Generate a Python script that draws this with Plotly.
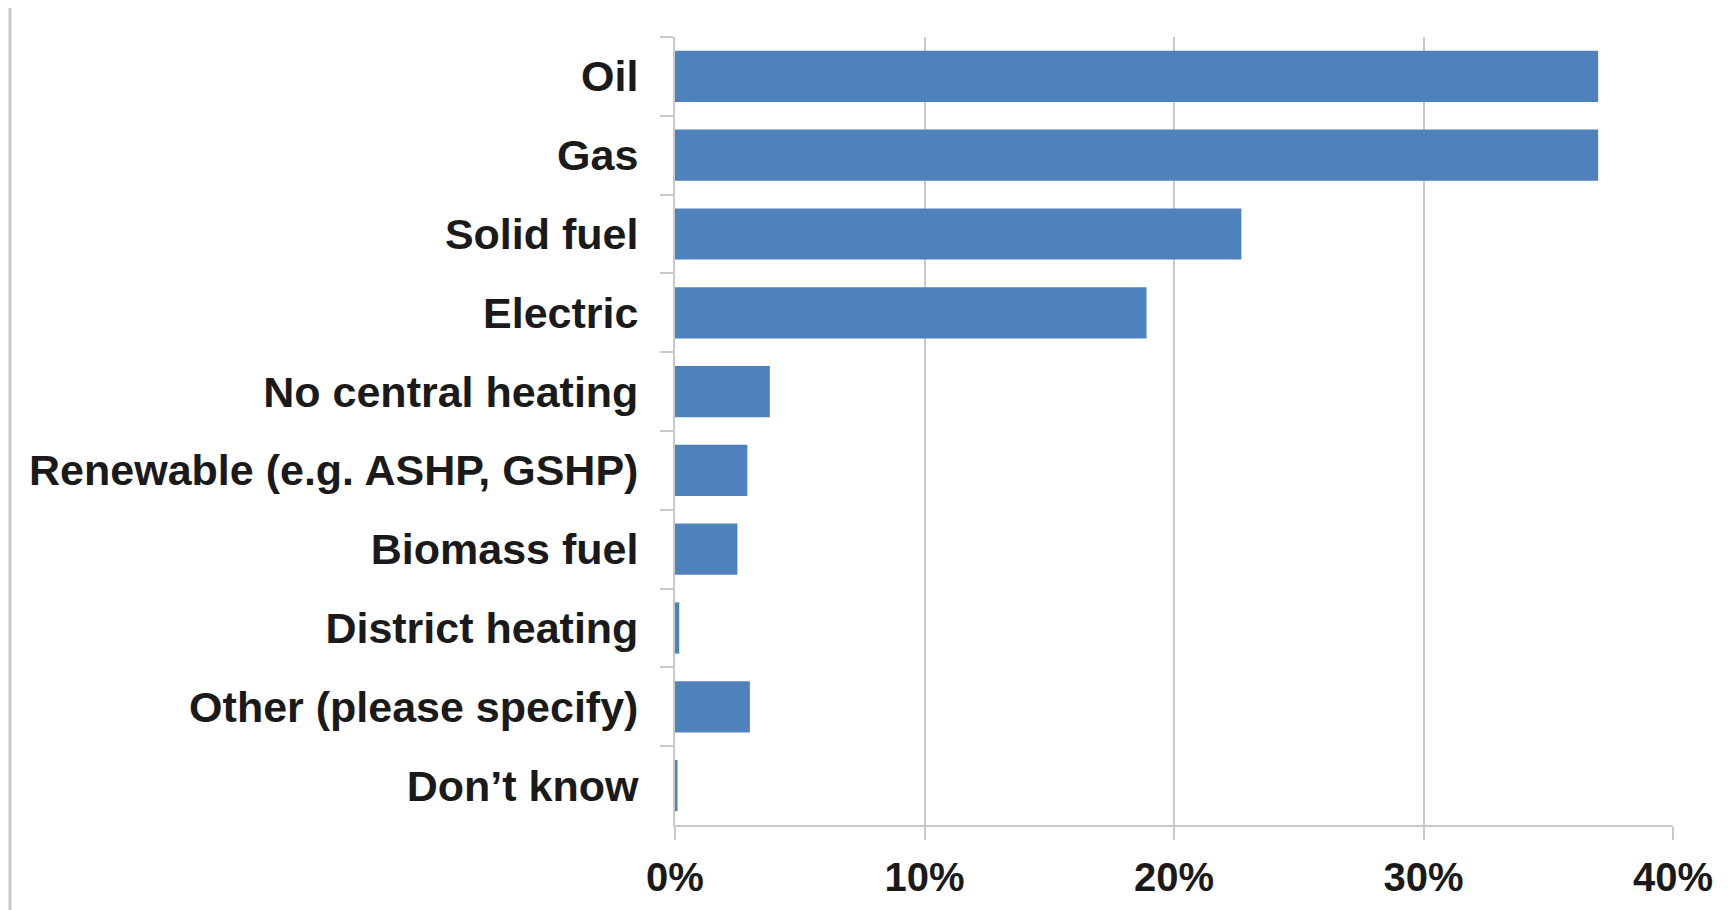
import plotly.graph_objects as go

categories = [
    "Oil",
    "Gas",
    "Solid fuel",
    "Electric",
    "No central heating",
    "Renewable (e.g. ASHP, GSHP)",
    "Biomass fuel",
    "District heating",
    "Other (please specify)",
    "Don\u2019t know",
]
values = [37.0, 37.0, 22.7, 18.9, 3.8, 2.9, 2.5, 0.17, 3.0, 0.1]
x_ticks = [0, 10, 20, 30, 40]
x_tick_labels = ["0%", "10%", "20%", "30%", "40%"]

W, H = 1732, 910
OFF = 8  # page body margin
L, R, T, B = 675 - OFF, 59 + OFF, 37 - OFF, 85 + OFF
plot_w = W - L - R
plot_h = H - T - B

fig = go.Figure(
    go.Bar(
        x=values,
        y=categories,
        orientation="h",
        width=0.65,
        marker=dict(color="#4F81BD", line=dict(width=0)),
    )
)

font_family = "Liberation Sans, Arial, sans-serif"

fig.update_layout(
    width=W,
    height=H,
    margin=dict(l=L, r=R, t=T, b=B, pad=0),
    paper_bgcolor="white",
    plot_bgcolor="white",
    showlegend=False,
    xaxis=dict(
        range=[0, 40],
        tickvals=x_ticks,
        ticktext=x_tick_labels,
        showgrid=True,
        gridcolor="#c9c9c9",
        gridwidth=2,
        zeroline=False,
        showline=True,
        linecolor="#c9c9c9",
        linewidth=2,
        ticks="outside",
        ticklen=13,
        tickwidth=1.5,
        tickcolor="#c9c9c9",
        ticklabelstandoff=3,
        tickfont=dict(family=font_family, size=40, color="#1a1a1a", weight="bold"),
        fixedrange=True,
    ),
    yaxis=dict(
        categoryorder="array",
        categoryarray=categories,
        autorange="reversed",
        showgrid=False,
        zeroline=False,
        showline=True,
        linecolor="#c9c9c9",
        linewidth=2,
        ticks="outside",
        tickson="boundaries",
        ticklen=13,
        tickwidth=1.5,
        tickcolor="#c9c9c9",
        ticklabelstandoff=26,
        tickfont=dict(family=font_family, size=43, color="#1a1a1a", weight="bold"),
        fixedrange=True,
    ),
)

# left border line of the original chart frame (page x ~ 10px)
x_border = (10 - OFF - L) / plot_w
fig.add_shape(
    type="line",
    xref="paper",
    yref="paper",
    x0=x_border,
    x1=x_border,
    y0=-(B) / plot_h,
    y1=1 + T / plot_h,
    line=dict(color="#c8c8c8", width=3),
)

fig.write_html("out.html")
